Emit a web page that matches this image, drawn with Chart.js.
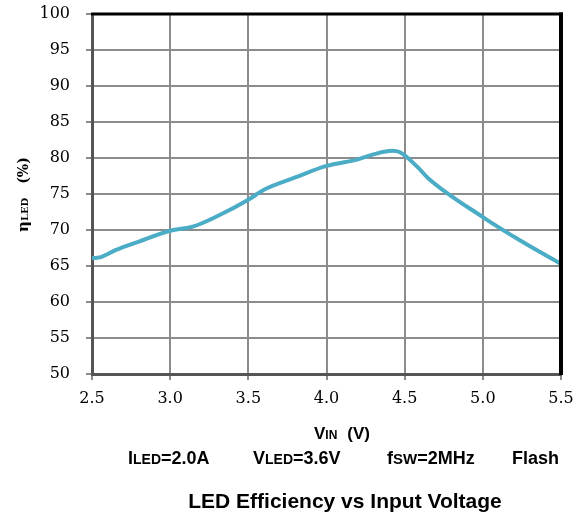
<!DOCTYPE html>
<html>
<head>
<meta charset="utf-8">
<script src="https://cdn.jsdelivr.net/npm/chart.js@4/dist/chart.umd.min.js"></script>
<style>
  html, body { margin: 0; padding: 0; background: #fff; }
  canvas { display: block; }
</style>
</head>
<body>
<canvas id="chart" width="579" height="520"></canvas>
<script>
// input voltage (V) and LED efficiency (%)
const vin = [2.5, 2.55, 2.65, 2.8, 3.0, 3.15, 3.3, 3.5, 3.6, 3.8, 4.0, 4.2, 4.3, 4.42, 4.47, 4.58, 4.65, 5.0, 5.25, 5.5];
const efficiency = [66.1, 66.2, 67.2, 68.4, 69.9, 70.5, 71.9, 74.2, 75.6, 77.3, 78.9, 79.8, 80.5, 81.0, 80.8, 78.8, 77.2, 71.8, 68.4, 65.3];

const xTickLabels = ["2.5", "3.0", "3.5", "4.0", "4.5", "5.0", "5.5"];
const yTickLabels = ["50", "55", "60", "65", "70", "75", "80", "85", "90", "95", "100"];

const chartTitle = "LED Efficiency vs Input Voltage";

const SANS = "'Liberation Sans', Arial, sans-serif";
const SERIF = "'DejaVu Serif', serif";

/**
 * Draws a run of text pieces with different fonts one after another.
 * @param {CanvasRenderingContext2D} ctx
 */
function drawRuns(ctx, x, y, runs) {
    let cx = x;
    for (const r of runs) {
        ctx.font = r.font;
        if (r.gap) cx += r.gap;
        ctx.fillText(r.text, cx, y);
        cx += ctx.measureText(r.text).width;
    }
}

const frame = {
    id: "frame",
    afterDatasetsDraw(chart) {
        const { ctx, chartArea: a } = chart;
        ctx.save();
        ctx.strokeStyle = "#000";
        ctx.lineWidth = 3;
        ctx.beginPath();
        ctx.moveTo(a.left - 1, a.top);
        ctx.lineTo(a.right + 2, a.top);
        ctx.stroke();
        ctx.lineWidth = 4;
        ctx.beginPath();
        ctx.moveTo(a.right, a.top - 1.5);
        ctx.lineTo(a.right, a.bottom + 1);
        ctx.stroke();
        ctx.restore();
    },
};

const labels = {
    id: "labels",
    afterDraw(chart) {
        const { ctx } = chart;
        const big = "bold 18px " + SANS;
        const small = "bold 14px " + SANS;
        ctx.save();
        ctx.fillStyle = "#000";
        ctx.textBaseline = "alphabetic";
        ctx.textAlign = "left";

        // axis title under the ticks
        drawRuns(ctx, 314, 439, [
            { text: "V", font: "bold 17px " + SANS },
            { text: "IN", font: "bold 12px " + SANS },
            { text: "(V)", font: "bold 17px " + SANS, gap: 10 },
        ]);

        // test conditions
        drawRuns(ctx, 128, 464, [
            { text: "I", font: big },
            { text: "LED", font: small },
            { text: "=2.0A", font: big },
        ]);
        drawRuns(ctx, 253, 464, [
            { text: "V", font: big },
            { text: "LED", font: small },
            { text: "=3.6V", font: big },
        ]);
        drawRuns(ctx, 387, 464, [
            { text: "f", font: big },
            { text: "SW", font: "bold 15px " + SANS },
            { text: "=2MHz", font: big },
        ]);
        drawRuns(ctx, 512, 464, [{ text: "Flash", font: big }]);

        ctx.textAlign = "center";
        ctx.font = "bold 21px " + SANS;
        ctx.fillText(chartTitle, 345, 508);

        // rotated y title
        ctx.textAlign = "left";
        ctx.translate(28, 232);
        ctx.rotate(-Math.PI / 2);
        drawRuns(ctx, 0, 0, [
            { text: "\u03b7", font: "bold 15px " + SERIF },
            { text: "LED", font: "bold 10px " + SERIF },
            { text: "(%)", font: "bold 14px " + SERIF, gap: 14 },
        ]);
        ctx.restore();
    },
};

const tickFont = { family: SERIF, size: 16 };
const gridColor = "#8c8c8c";

new Chart(document.getElementById("chart"), {
    type: "line",
    data: {
        datasets: [
            {
                data: vin.map((v, i) => ({ x: v, y: efficiency[i] })),
                borderColor: "#4bacc6",
                borderWidth: 4,
                pointRadius: 0,
                cubicInterpolationMode: "monotone",
                fill: false,
            },
        ],
    },
    options: {
        responsive: false,
        animation: false,
        layout: { padding: { top: 14, right: 18, left: 0, bottom: 0 } },
        plugins: {
            legend: { display: false },
            tooltip: { enabled: false },
        },
        scales: {
            x: {
                type: "linear",
                min: 2.5,
                max: 5.5,
                afterFit(scale) {
                    scale.height = 146;
                    scale.paddingLeft = 0;
                    scale.paddingRight = 0;
                },
                ticks: {
                    stepSize: 0.5,
                    callback: (v, i) => xTickLabels[i],
                    font: tickFont,
                    color: "#000",
                    padding: 9,
                    maxRotation: 0,
                },
                grid: { color: gridColor, lineWidth: 2, tickLength: 6 },
                border: { color: "#555", width: 3 },
            },
            y: {
                min: 50,
                max: 100,
                afterFit(scale) {
                    scale.width = 92;
                    scale.paddingTop = 0;
                    scale.paddingBottom = 0;
                },
                ticks: {
                    stepSize: 5,
                    callback: (v, i) => yTickLabels[i],
                    font: tickFont,
                    color: "#000",
                    padding: 16,
                },
                grid: { color: gridColor, lineWidth: 2, tickLength: 6 },
                border: { color: "#555", width: 3 },
            },
        },
    },
    plugins: [frame, labels],
});
</script>
</body>
</html>
